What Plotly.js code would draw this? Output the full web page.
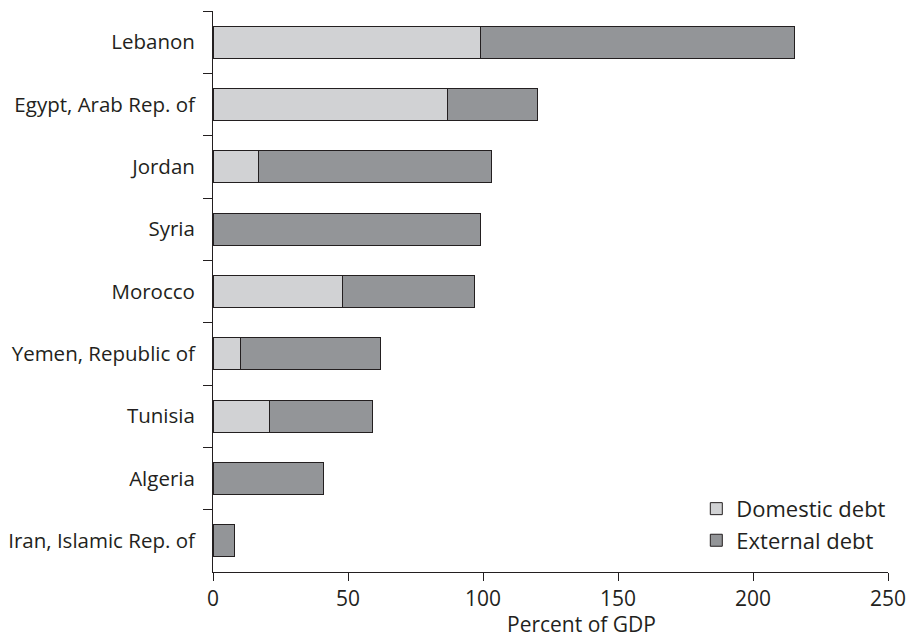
<!DOCTYPE html>
<html><head><meta charset="utf-8">
<script src="https://cdn.plot.ly/plotly-3.0.1.min.js"></script>
<style>body{margin:0;background:#fff}#c{width:915px;height:640px}</style>
</head><body><div id="c"></div>
<script>
const countries = ["Lebanon","Egypt, Arab Rep. of","Jordan","Syria","Morocco","Yemen, Republic of","Tunisia","Algeria","Iran, Islamic Rep. of"];
const domesticDebt = [99, 87, 17, 0, 48, 10, 21, 0.3, 0];
const externalDebt = [116.4, 33, 86, 99, 49, 52, 38, 40.8, 8];
const xTicks = [0, 50, 100, 150, 200, 250];

const ink = "#231f20";
const font = {family: "Open Sans, sans-serif", size: 21, color: ink};
const yFont = {family: "Open Sans, sans-serif", size: 20.5, color: ink};
const legendFont = {family: "Open Sans, sans-serif", size: 22, color: ink};
const common = {type: "bar", orientation: "h", y: countries, width: 0.51,
  hoverinfo: "skip"};
const data = [
  Object.assign({}, common, {name: "Domestic debt", x: domesticDebt,
    marker: {color: "#d1d2d4", line: {color: ink, width: 1}}}),
  Object.assign({}, common, {name: "External debt", x: externalDebt,
    marker: {color: "#939598", line: {color: ink, width: 1}}})
];
const layout = {
  width: 915, height: 640, barmode: "stack",
  margin: {l: 213, r: 27, t: 11, b: 68},
  paper_bgcolor: "#fff", plot_bgcolor: "#fff",
  font: font, showlegend: true,
  legend: {x: 0.716, xanchor: "left", y: 0.15, yanchor: "top", traceorder: "normal",
    font: legendFont, bgcolor: "rgba(0,0,0,0)", itemwidth: 30, tracegroupgap: 0},
  xaxis: {range: [0, 250], tickvals: xTicks, ticktext: xTicks.map(String),
    showgrid: false, zeroline: false, showline: true, linecolor: ink, linewidth: 1,
    ticks: "outside", ticklen: 8, tickcolor: ink, tickfont: font},
  yaxis: {autorange: "reversed", type: "category", tickson: "boundaries",
    showgrid: false, zeroline: false, showline: true, linecolor: ink, linewidth: 1,
    ticks: "outside", ticklen: 9, tickcolor: ink, tickfont: yFont, ticklabelstandoff: 13},
  annotations: [{text: "Percent of GDP", xref: "paper", yref: "paper",
    x: 0.546, y: -0.0927, xanchor: "center", yanchor: "middle", showarrow: false,
    font: font}]
};
Plotly.newPlot("c", data, layout, {displayModeBar: false, staticPlot: true});
</script></body></html>
